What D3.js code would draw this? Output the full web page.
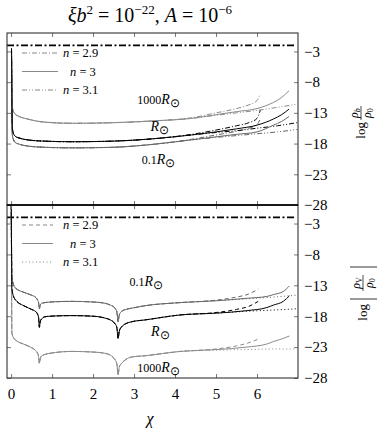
<!DOCTYPE html>
<html>
  <head>
    <meta charset="utf-8">
    <title>rho_b and rho_V profiles</title>
    <style media="screen">
      body { margin: 0; background: white; }
      svg text {
        font-family: "Liberation Serif", "Times New Roman", serif;
        fill: black;
      }
      .axis .tick line { stroke: #777; }
      .axis .tick text { font-size: 15px; }
      .axis .domain { display: none; }
      .frame { fill: none; stroke: #333; stroke-width: 1.1; }
      .curve { fill: none; stroke-width: 1; }
      .lbl { font-size: 12px; }
    </style>
    <script src="https://d3js.org/d3.v7.min.js"></script>
  </head>
  <body>
    <script type="text/javascript">

      // ticks
      const xTicks = [0, 1, 2, 3, 4, 5, 6];
      const yTicks = [-28, -23, -18, -13, -8, -3];
      const refLevel = -2;

      // upper panel, log rho_b / rho_0, n = 3
      const xTop = [0.01, 0.03, 0.06, 0.1, 0.2, 0.4, 0.8, 1.5, 2.5, 3.5, 4.4, 5.0, 5.5, 6.0, 6.4, 6.6, 6.78];
      const top1000 = [-2.5, -12.0, -12.8, -13.2, -13.6, -14.0, -14.5, -14.7, -14.6, -14.3, -13.9, -13.3, -12.8, -12.3, -11.3, -10.5, -9.4];
      const topSun = [-2.5, -15.5, -16.4, -16.8, -17.1, -17.4, -17.6, -17.7, -17.6, -17.2, -16.6, -16.1, -15.6, -15.0, -14.0, -13.3, -12.4];
      const top01 = [-2.5, -16.6, -17.4, -17.8, -18.1, -18.4, -18.6, -18.7, -18.6, -18.1, -17.4, -16.9, -16.5, -16.1, -15.0, -14.4, -13.6];
      // n = 2.9 tails
      const xTop29 = [4.4, 5.0, 5.5, 5.8, 6.0, 6.08];
      const top1000n29 = [-13.8, -13.0, -12.3, -11.7, -11.0, -9.9];
      const topSunN29 = [-16.5, -15.8, -15.1, -14.6, -13.9, -12.6];
      const top01n29 = [-17.3, -16.6, -16.0, -15.5, -14.9, -14.0];
      // n = 3.1 tails
      const xTop31 = [4.4, 5.0, 5.5, 6.0, 6.5, 6.97];
      const top1000n31 = [-13.9, -13.4, -13.0, -12.6, -12.1, -11.6];
      const topSunN31 = [-16.6, -16.2, -15.9, -15.5, -15.1, -14.6];
      const top01n31 = [-17.4, -17.0, -16.7, -16.4, -16.1, -15.7];

      // lower panel, log |rho_V / rho_0|, n = 3
      const xBot = [0.005, 0.02, 0.1, 0.34, 0.5, 0.59, 0.64, 0.67, 0.69, 0.71, 0.75, 0.82, 0.95, 1.48, 2.0, 2.29, 2.42, 2.52, 2.58, 2.61, 2.64, 2.7, 2.8, 2.94, 3.27, 4.12, 5.0, 5.75, 6.24, 6.4, 6.64, 6.79];
      const bot01 = [0, -11.8, -13.4, -14.2, -14.6, -14.9, -15.3, -15.8, -16.8, -16.2, -15.9, -15.8, -15.7, -15.6, -15.7, -15.9, -16.2, -16.6, -17.3, -18.9, -17.8, -17.2, -16.9, -16.7, -16.3, -15.8, -15.5, -15.1, -14.8, -14.5, -14.0, -13.1];
      const botSun = [0, -13.7, -15.3, -16.4, -16.9, -17.2, -17.6, -18.2, -19.8, -18.9, -18.4, -18.1, -18.0, -17.9, -18.0, -18.3, -18.6, -19.1, -19.8, -21.6, -20.4, -19.7, -19.2, -18.9, -18.6, -17.8, -17.5, -17.1, -16.6, -16.2, -15.6, -14.7];
      const bot1000 = [0, -20.8, -21.8, -22.6, -23.1, -23.5, -23.9, -24.5, -25.6, -24.9, -24.4, -24.2, -24.0, -23.7, -23.8, -24.0, -24.3, -24.9, -25.7, -27.5, -26.2, -25.6, -25.0, -24.6, -24.4, -23.7, -23.4, -23.0, -22.5, -22.1, -21.6, -21.2];
      // n = 2.9 tails
      const xBot29 = [4.12, 5.0, 5.5, 5.8, 6.03];
      const bot01n29 = [-15.8, -15.4, -14.9, -14.4, -13.6];
      const botSunN29 = [-17.8, -17.4, -16.9, -16.4, -15.6];
      const bot1000n29 = [-23.7, -23.3, -22.8, -22.3, -21.7];
      // n = 3.1 tails
      const xBot31 = [4.12, 5.0, 5.75, 6.4, 6.97];
      const bot01n31 = [-15.8, -15.5, -15.2, -14.9, -14.6];
      const botSunN31 = [-17.8, -17.5, -17.2, -17.0, -16.8];
      const bot1000n31 = [-23.7, -23.5, -23.4, -23.3, -23.3];

      const colors = { r1000: '#8a8a8a', sun: '#000', r01: '#666' };
      const serif = '"Liberation Serif", "Times New Roman", serif';

      const svg = d3.select('body')
        .append('svg')
          .attr('width', 383)
          .attr('height', 431)
          .attr('font-family', serif);

      const x = d3.scaleLinear().domain([-0.1, 7.0]).range([7, 298]);
      const yTop = d3.scaleLinear().domain([-28, 0]).range([205, 33]);
      const yBot = d3.scaleLinear().domain([-28, 0]).range([378, 205]);

      const pairs = (xs, ys) => xs.map((v, i) => [v, ys[i]]);
      const withTail = (xs, ys, tx, ty) =>
        pairs(xs, ys).filter(p => p[0] < tx[0]).concat(pairs(tx, ty));

      function panel(id, y, series, legend, labels) {
        const [y0, y1] = y.range();
        svg.append('clipPath').attr('id', id)
          .append('rect').attr('x', 7).attr('y', y1).attr('width', 291).attr('height', y0 - y1);

        const g = svg.append('g');
        const line = d3.line()
          .x(d => x(d[0]))
          .y(d => y(d[1]))
          .curve(d3.curveMonotoneX);

        const plot = g.append('g').attr('clip-path', `url(#${id})`);

        // thick reference level
        plot.append('path')
          .attr('d', line([[-0.1, refLevel], [6.95, refLevel]]))
          .attr('fill', 'none')
          .attr('stroke', '#000')
          .attr('stroke-width', 1.8)
          .attr('stroke-dasharray', '7,2.5,2,2.5');

        plot.selectAll('.curve')
          .data(series)
          .enter()
          .append('path')
            .attr('class', 'curve')
            .attr('d', d => line(d.pts))
            .attr('stroke', d => d.color)
            .attr('stroke-dasharray', d => d.dash);

        // ticks, all inward
        g.append('g').attr('class', 'axis').attr('transform', `translate(0,${y0})`)
          .call(d3.axisBottom(x).tickValues(xTicks).tickSize(-4).tickFormat(''));
        g.append('g').attr('class', 'axis').attr('transform', `translate(0,${y1})`)
          .call(d3.axisTop(x).tickValues(xTicks).tickSize(-4).tickFormat(''));
        g.append('g').attr('class', 'axis').attr('transform', 'translate(7,0)')
          .call(d3.axisLeft(y).tickValues(yTicks).tickSize(-4).tickFormat(''));
        g.append('g').attr('class', 'axis').attr('transform', 'translate(298,0)')
          .call(d3.axisRight(y).tickValues(yTicks).tickSize(-4).tickPadding(6))
          .attr('font-family', serif);

        g.append('rect').attr('class', 'frame')
          .attr('x', 7).attr('y', y1).attr('width', 291).attr('height', y0 - y1);

        // legend
        const lg = g.append('g');
        legend.forEach((d, i) => {
          const ly = y1 + 20 + i * 18.5;
          lg.append('line')
            .attr('x1', 22).attr('x2', d.len).attr('y1', ly).attr('y2', ly)
            .attr('stroke', '#888').attr('stroke-width', 1)
            .attr('stroke-dasharray', d.dash);
          const t = lg.append('text').attr('x', d.tx).attr('y', ly + 4).attr('font-size', 12.5);
          t.append('tspan').attr('font-style', 'italic').text('n');
          t.append('tspan').text(' = ' + d.n);
        });

        // curve labels
        labels.forEach(d => {
          const t = g.append('text').attr('class', 'lbl')
            .attr('x', x(d.at[0])).attr('y', y(d.at[1]) + 4)
            .attr('text-anchor', 'middle').attr('fill', d.color);
          if (d.pre) t.append('tspan').text(d.pre);
          t.append('tspan').attr('font-style', 'italic').attr('font-size', 14).text('R');
          t.append('tspan').attr('dy', 3).attr('font-size', 12).text('\u2299');
        });
        return g;
      }

      const topDash = { n29: '5,2,1,2', n3: null, n31: '5,2,1,2,1,2' };
      const botDash = { n29: '4,3', n3: null, n31: '1,2.5' };

      panel('clipTop', yTop, [
        { pts: withTail(xTop, top1000, xTop29, top1000n29), color: colors.r1000, dash: topDash.n29 },
        { pts: withTail(xTop, top1000, xTop31, top1000n31), color: colors.r1000, dash: topDash.n31 },
        { pts: withTail(xTop, top01, xTop29, top01n29), color: colors.r01, dash: topDash.n29 },
        { pts: withTail(xTop, top01, xTop31, top01n31), color: colors.r01, dash: topDash.n31 },
        { pts: withTail(xTop, topSun, xTop29, topSunN29), color: colors.sun, dash: topDash.n29 },
        { pts: withTail(xTop, topSun, xTop31, topSunN31), color: colors.sun, dash: topDash.n31 },
        { pts: pairs(xTop, top1000), color: colors.r1000, dash: null },
        { pts: pairs(xTop, top01), color: colors.r01, dash: null },
        { pts: pairs(xTop, topSun), color: colors.sun, dash: null }
      ], [
        { n: '2.9', dash: topDash.n29, len: 58, tx: 63 },
        { n: '3', dash: topDash.n3, len: 58, tx: 70 },
        { n: '3.1', dash: topDash.n31, len: 58, tx: 63 }
      ], [
        { pre: '1000', at: [3.6, -10.9], color: '#999' },
        { pre: '', at: [3.63, -15.3], color: '#000' },
        { pre: '0.1', at: [3.6, -20.7], color: '#888' }
      ]);

      panel('clipBot', yBot, [
        { pts: withTail(xBot, bot1000, xBot29, bot1000n29), color: colors.r1000, dash: botDash.n29 },
        { pts: withTail(xBot, bot1000, xBot31, bot1000n31), color: colors.r1000, dash: botDash.n31 },
        { pts: withTail(xBot, bot01, xBot29, bot01n29), color: colors.r01, dash: botDash.n29 },
        { pts: withTail(xBot, bot01, xBot31, bot01n31), color: colors.r01, dash: botDash.n31 },
        { pts: withTail(xBot, botSun, xBot29, botSunN29), color: colors.sun, dash: botDash.n29 },
        { pts: withTail(xBot, botSun, xBot31, botSunN31), color: colors.sun, dash: botDash.n31 },
        { pts: pairs(xBot, bot1000), color: colors.r1000, dash: null },
        { pts: pairs(xBot, bot01), color: colors.r01, dash: null },
        { pts: pairs(xBot, botSun), color: colors.sun, dash: null }
      ], [
        { n: '2.9', dash: botDash.n29, len: 53, tx: 63 },
        { n: '3', dash: botDash.n3, len: 53, tx: 70 },
        { n: '3.1', dash: botDash.n31, len: 53, tx: 63 }
      ], [
        { pre: '0.1', at: [3.3, -12.5], color: '#888' },
        { pre: '', at: [3.64, -20.5], color: '#000' },
        { pre: '1000', at: [3.6, -26.4], color: '#999' }
      ]);

      // the shared border between the panels
      svg.append('line').attr('x1', 7).attr('x2', 298)
        .attr('y1', yTop(-28)).attr('y2', yTop(-28))
        .attr('stroke', '#000').attr('stroke-width', 1.4);

      // x axis labels
      svg.append('g').attr('class', 'axis').attr('transform', 'translate(0,378)')
        .call(d3.axisBottom(x).tickValues(xTicks).tickSize(0).tickPadding(10))
        .attr('font-family', serif)
        .selectAll('.tick line').remove();

      svg.append('text')
        .attr('x', 150).attr('y', 424)
        .attr('text-anchor', 'middle')
        .attr('font-size', 16).attr('font-style', 'italic')
        .text('\u03c7');

      // title
      const title = svg.append('text')
        .attr('x', 150).attr('y', 22)
        .attr('text-anchor', 'middle')
        .attr('font-size', 20);
      title.append('tspan').attr('font-style', 'italic').text('\u03beb');
      title.append('tspan').attr('dy', -8).attr('font-size', 13).text('2');
      title.append('tspan').attr('dy', 8).text(' = 10');
      title.append('tspan').attr('dy', -8).attr('font-size', 13).text('\u221222');
      title.append('tspan').attr('dy', 8).text(', ');
      title.append('tspan').attr('font-style', 'italic').text('A');
      title.append('tspan').text(' = 10');
      title.append('tspan').attr('dy', -8).attr('font-size', 13).text('\u22126');

      // right side y labels, rotated
      const labTop = svg.append('g').attr('transform', 'translate(361,120) rotate(-90)');
      labTop.append('text').attr('x', -2).attr('y', 4).attr('text-anchor', 'end')
        .attr('font-size', 13).text('log');
      const numTop = labTop.append('text').attr('x', 7).attr('y', -3)
        .attr('text-anchor', 'middle').attr('font-size', 12);
      numTop.append('tspan').attr('font-style', 'italic').text('\u03c1');
      numTop.append('tspan').attr('font-size', 8).attr('font-style', 'italic').attr('dy', 2).text('b');
      labTop.append('line').attr('x1', 0).attr('x2', 14).attr('y1', 0).attr('y2', 0)
        .attr('stroke', '#000').attr('stroke-width', 0.7);
      const denTop = labTop.append('text').attr('x', 7).attr('y', 10)
        .attr('text-anchor', 'middle').attr('font-size', 12);
      denTop.append('tspan').attr('font-style', 'italic').text('\u03c1');
      denTop.append('tspan').attr('font-size', 8).attr('dy', 2).text('0');

      const labBot = svg.append('g').attr('transform', 'translate(363,300) rotate(-90)');
      labBot.append('text').attr('x', -4).attr('y', 4).attr('text-anchor', 'end')
        .attr('font-size', 13).text('log');
      [1, 33].forEach(bx => {
        labBot.append('line').attr('x1', bx).attr('x2', bx).attr('y1', -13).attr('y2', 14)
          .attr('stroke', '#000').attr('stroke-width', 0.8);
      });
      const numBot = labBot.append('text').attr('x', 17).attr('y', -3)
        .attr('text-anchor', 'middle').attr('font-size', 12);
      numBot.append('tspan').attr('font-style', 'italic').text('\u03c1');
      numBot.append('tspan').attr('font-size', 8).attr('dy', 2).text('V');
      labBot.append('line').attr('x1', 9).attr('x2', 25).attr('y1', 0).attr('y2', 0)
        .attr('stroke', '#000').attr('stroke-width', 0.7);
      const denBot = labBot.append('text').attr('x', 17).attr('y', 10)
        .attr('text-anchor', 'middle').attr('font-size', 12);
      denBot.append('tspan').attr('font-style', 'italic').text('\u03c1');
      denBot.append('tspan').attr('font-size', 8).attr('dy', 2).text('0');
    </script>
  </body>
</html>
